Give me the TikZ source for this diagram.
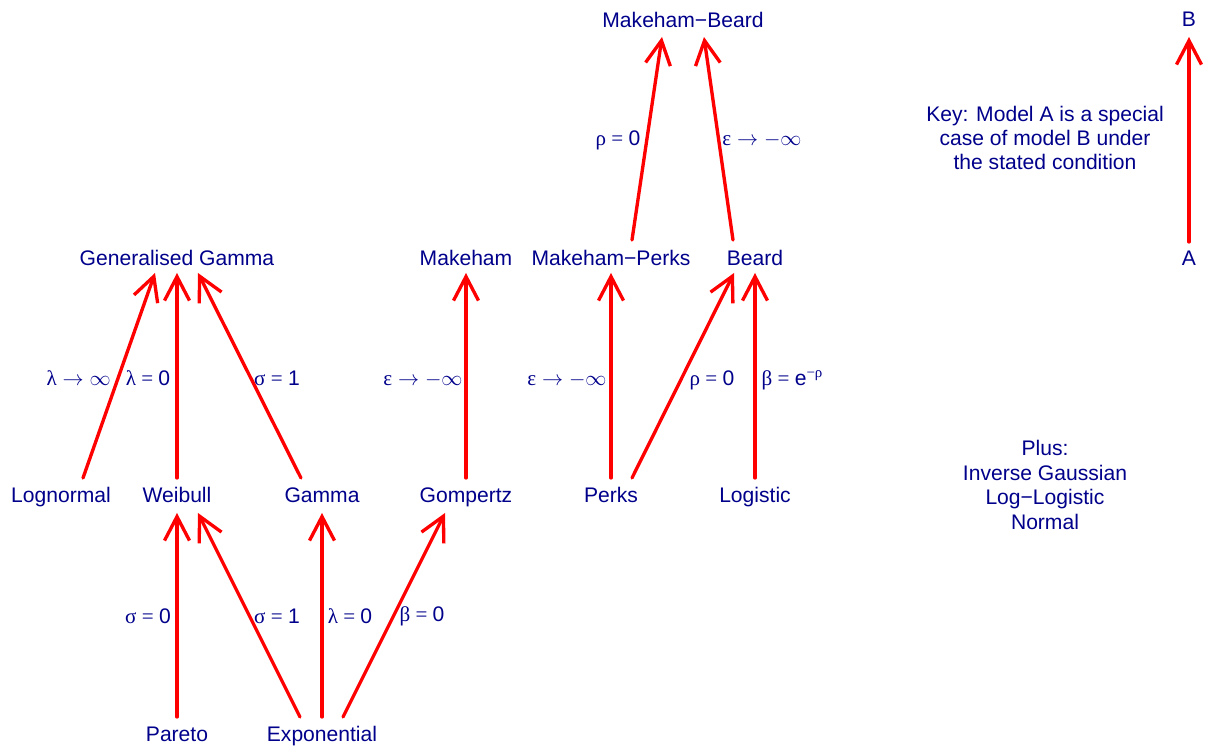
\documentclass[tikz,border=0pt]{standalone}
\usepackage{fontspec}
\setmainfont{Liberation Sans}
\newfontfamily\grk{Liberation Serif}
\usetikzlibrary{calc, arrows.meta}
\definecolor{labelBlue}{HTML}{00008B}
\definecolor{arrowRed}{HTML}{FF0000}

\begin{document}
\begin{tikzpicture}[x=0.02cm, y=-0.02cm,
    model/.style={text=labelBlue, font=\fontsize{12}{13.7}\selectfont, inner sep=0pt, text height=8.6pt, text depth=0pt},
    cond/.style={model},
    note/.style={text=labelBlue, font=\fontsize{12}{13.9}\selectfont, inner sep=0pt, align=center},
    special/.style={arrowRed, line width=1.9pt, line cap=round, -{Straight Barb[length=0.48cm, width=0.5cm]}}]
    \useasboundingbox (0,0) rectangle (1205,746);

    % model names
    \node[model] (mb)    at (683,20)  {Makeham−Beard};
    \node[model] (gg)    at (177,258) {Generalised Gamma};
    \node[model] (mak)   at (466,258) {Makeham};
    \node[model] (mp)    at (611,258) {Makeham−Perks};
    \node[model] (beard) at (755,258) {Beard};
    \node[model] (logn)  at (61,495)  {Lognormal};
    \node[model] (weib)  at (177,495) {Weibull};
    \node[model] (gam)   at (322,495) {Gamma};
    \node[model] (gomp)  at (466,495) {Gompertz};
    \node[model] (perks) at (611,495) {Perks};
    \node[model] (logis) at (755,495) {Logistic};
    \node[model] (par)   at (177,734) {Pareto};
    \node[model] (expo)  at (322,734) {Exponential};

    % key
    \node[model] (b) at (1189,19)  {B};
    \node[model] (a) at (1189,258) {A};
    \node[note] (key)  at (1045,138) {Key: Model A is a special\\case of model B under\\the stated condition};
    \node[note] (plus) at (1045,485) {Plus:\\Inverse Gaussian\\Log−Logistic\\Normal};

    % special cases
    \draw[special] ($(a)+(0,-16)$) -- ($(b)+(0,18)$);
    \draw[special] ($(mp)+(21,-18)$) -- ($(mb)+(-21,17)$);
    \draw[special] ($(beard)+(-22,-18)$) -- ($(mb)+(21,17)$);
    \draw[special] ($(logn)+(22,-17)$) -- ($(gg)+(-22,15)$);
    \draw[special] ($(weib)+(0,-17)$) -- ($(gg)+(0,15)$);
    \draw[special] ($(gam)+(-21,-17)$) -- ($(gg)+(21,15)$);
    \draw[special] ($(gomp)+(0,-17)$) -- ($(mak)+(0,15)$);
    \draw[special] ($(perks)+(0,-17)$) -- ($(mp)+(0,15)$);
    \draw[special] ($(perks)+(21,-17)$) -- ($(beard)+(-21,15)$);
    \draw[special] ($(logis)+(0,-17)$) -- ($(beard)+(0,15)$);
    \draw[special] ($(par)+(0,-17)$) -- ($(weib)+(0,18)$);
    \draw[special] ($(expo)+(-22,-17)$) -- ($(weib)+(21,18)$);
    \draw[special] ($(expo)+(0,-17)$) -- ($(gam)+(0,18)$);
    \draw[special] ($(expo)+(21,-17)$) -- ($(gomp)+(-21,18)$);

    % conditions
    \node[cond] at (618,138) {{\grk ρ = }0};
    \node[cond] at (762,138) {{\grk ε} $\rightarrow -\infty$};
    \node[cond, anchor=east] at (111,378) {{\grk λ} $\rightarrow \infty$};
    \node[cond] at (148,378) {{\grk λ = }0};
    \node[cond] at (277,378) {{\grk σ = }1};
    \node[cond] at (423,378) {{\grk ε} $\rightarrow -\infty$};
    \node[cond] at (567,378) {{\grk ε} $\rightarrow -\infty$};
    \node[cond] at (712,378) {{\grk ρ = }0};
    \node[cond] at (792,378) {{\grk β = }e\raisebox{0.75ex}{\fontsize{8.5}{9}\selectfont\grk −ρ}};
    \node[cond] at (148,616) {{\grk σ = }0};
    \node[cond] at (277,616) {{\grk σ = }1};
    \node[cond] at (350,616) {{\grk λ = }0};
    \node[cond] at (422,614) {{\grk β = }0};
\end{tikzpicture}
\end{document}
